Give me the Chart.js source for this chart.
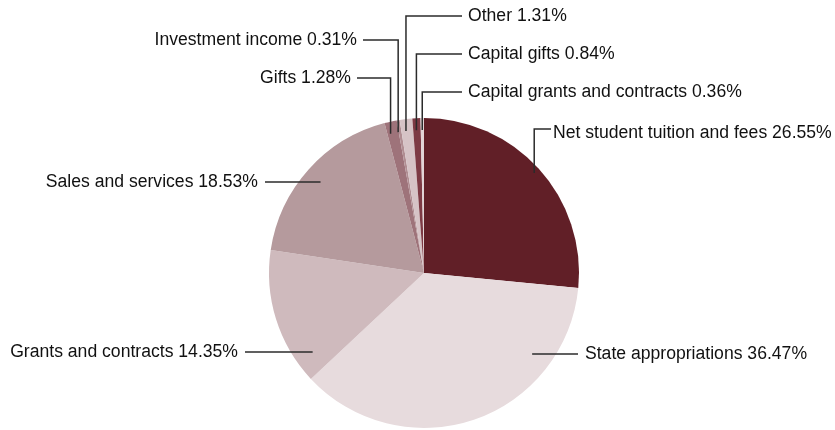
<!DOCTYPE html>
<html>
<head>
<meta charset="utf-8">
<script src="https://cdn.jsdelivr.net/npm/chart.js@4"></script>
<style>
  html, body { margin: 0; padding: 0; background: #fff; }
  #wrap { width: 835px; height: 430px; }
</style>
</head>
<body>
<div id="wrap"><canvas id="myChart" width="835" height="430"></canvas></div>
<script>
const categories = [
    "Net student tuition and fees",
    "State appropriations",
    "Grants and contracts",
    "Sales and services",
    "Gifts",
    "Investment income",
    "Other",
    "Capital gifts",
    "Capital grants and contracts"
];
const shares = [26.55, 36.47, 14.35, 18.53, 1.28, 0.31, 1.31, 0.84, 0.36];
const colors = ["#611F27", "#E7DBDD", "#CFBABD", "#B59A9D", "#9E737A", "#B08D92", "#D6C3C6", "#7D3A44", "#E2D4D6"];

// label placement: side of the pie and text row
// kind "h" = horizontal leader, "v" = vertical leader from above, "nt" = elbow
const labelLayout = [
    { kind: "nt", tx: 553, ty: 133 },
    { kind: "h", tx: 585, ty: 354, align: "left" },
    { kind: "h", tx: 238, ty: 352, align: "right" },
    { kind: "h", tx: 258, ty: 182, align: "right" },
    { kind: "v", tx: 351, ty: 78, align: "right" },
    { kind: "v", tx: 357, ty: 40, align: "right" },
    { kind: "v", tx: 468, ty: 16, align: "left" },
    { kind: "v", tx: 468, ty: 54, align: "left" },
    { kind: "v", tx: 468, ty: 92, align: "left" }
];

const leaderLabels = {
    id: "leaderLabels",
    afterDraw(chart) {
        const ctx = chart.ctx;
        const arcs = chart.getDatasetMeta(0).data;
        ctx.save();
        ctx.font = "17.6px 'Liberation Sans', Arial, sans-serif";
        ctx.fillStyle = "#111";
        ctx.strokeStyle = "#2b2b2b";
        ctx.lineWidth = 1.5;
        ctx.textBaseline = "middle";
        arcs.forEach((arc, i) => {
            const L = labelLayout[i];
            const text = categories[i] + " " + shares[i].toFixed(2) + "%";
            const cx = arc.x, cy = arc.y, R = arc.outerRadius;
            const mid = (arc.startAngle + arc.endAngle) / 2;
            ctx.beginPath();
            if (L.kind === "h") {
                const dy = L.ty - cy;
                const half = Math.sqrt(R * R - dy * dy);
                if (L.align === "left") {
                    ctx.moveTo(L.tx - 7, L.ty);
                    ctx.lineTo(cx + half - 24, L.ty);
                } else {
                    ctx.moveTo(L.tx + 7, L.ty);
                    ctx.lineTo(cx - half + 22, L.ty);
                }
            } else if (L.kind === "v") {
                const px = cx + R * Math.cos(mid);
                const py = cy + R * Math.sin(mid);
                const sx = L.align === "left" ? L.tx - 6 : L.tx + 6;
                ctx.moveTo(sx, L.ty);
                ctx.lineTo(px, L.ty);
                ctx.lineTo(px, py + 12);
            } else {
                const px = cx + R * 0.96 * Math.cos(mid);
                const py = cy + R * 0.96 * Math.sin(mid);
                ctx.moveTo(L.tx - 2, L.ty - 4);
                ctx.lineTo(px, L.ty - 4);
                ctx.lineTo(px, py);
            }
            ctx.stroke();
            ctx.textAlign = L.align || "left";
            ctx.fillText(text, L.tx, L.ty);
        });
        ctx.restore();
    }
};

const ctx = document.getElementById("myChart").getContext("2d");

const myChart = new Chart(ctx, {
    type: "pie",
    data: {
        labels: categories,
        datasets: [
            {
                data: shares,
                backgroundColor: colors,
                borderWidth: 0
            }
        ]
    },
    options: {
        responsive: false,
        animation: false,
        layout: {
            padding: { top: 118, bottom: 2, left: 269, right: 256 }
        },
        plugins: {
            legend: { display: false },
            tooltip: { enabled: false }
        }
    },
    plugins: [leaderLabels]
});
</script>
</body>
</html>
